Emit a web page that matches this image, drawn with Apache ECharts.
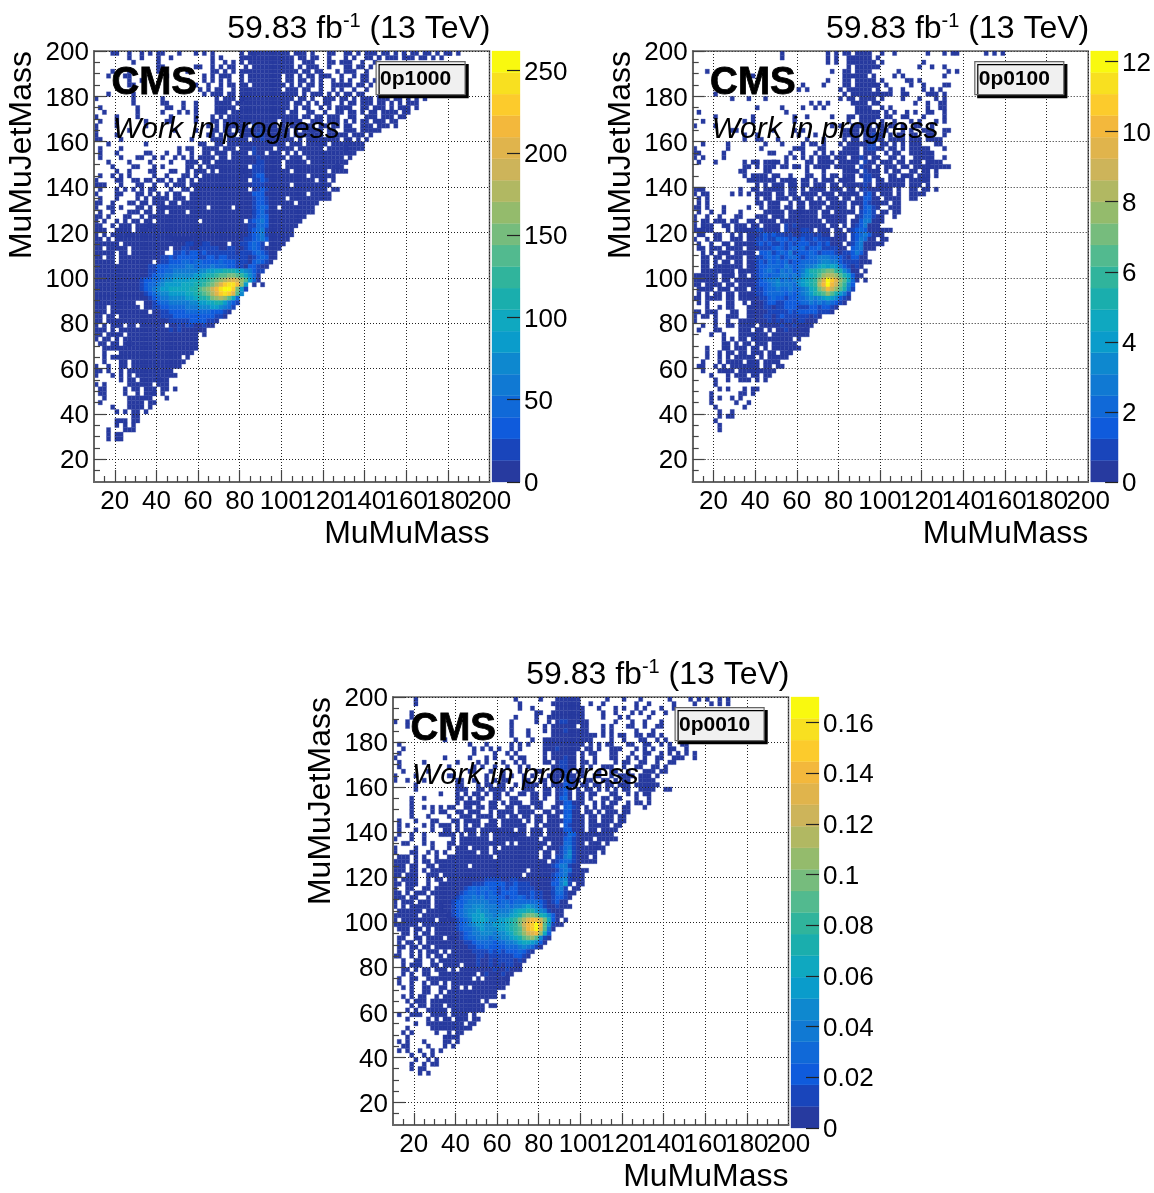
<!DOCTYPE html>
<html><head><meta charset="utf-8">
<style>html,body{margin:0;padding:0;background:#fff}#c{width:1154px;height:1193px}</style>
<script src="https://cdn.jsdelivr.net/npm/echarts@6/dist/echarts.min.js"></script>
</head><body><div id="c"></div>
<script>
// Palette bands of the z axis (bottom to top)
const bandColors=['#273a9f','#1945bb','#0f5bdc','#1069d8','#1079d3','#0e88cf','#0a9ccb','#0fa8c0','#1aaead','#30b49c','#52ba8f','#76bc7d','#94bb6c','#b1b862','#cdb45a','#e0b44c','#f3b83c','#fccb2c','#f8e020','#f9f90f'];
const majorTicks=[20,40,60,80,100,120,140,160,180,200];
const minorTicks=[15,25,30,35,45,50,55,65,70,75,85,90,95,105,110,115,125,130,135,145,150,155,165,170,175,185,190,195];
const labels=['0p1000','0p0100','0p0010'];
const zMax=[262,12.3,0.17];
const zTicks=[[0,50,100,150,200,250],[0,2,4,6,8,10,12],[0,0.02,0.04,0.06,0.08,0.1,0.12,0.14,0.16]];
// Rows run from the top of the plot (MuMuJetMass 198-200) downward, 2 GeV per bin.
// "col:bands" - col is the MuMuMass bin (10+2*col), each char a colour band, '.' an empty bin.
const rows0p1000=[
"4:00 8:0 11:0 13:0 15:00 20:0 24:0 26:0.0 35:0.00 38:00000000 46:0.00 50:0 52:0 56:00 60:00 63:0.00 67:0.00.0.0 74:0.00.0 80:0.0.00 85:0.0",
"8:0 11:0 15:0 18:0 28:0 30:0 35:000 38:00000000 46:00.00.0 53:0 56:0 60:0.0 65:00.0 68:0.000.00 76:0.00.0 83:0",
"9:0 15:0 28:0 31:0 33:0 35:0.0 38:000000000 47:0..00 52:0 56:00 59:000 64:0 67:0",
"15:00 24:00 28:0 30:0 32:00 36:0 38:000000000 47:0.0.0 52:00 56:0 60:00 63:00 66:0",
"4:0 8:0 15:0 22:0 28:00 31:0 33:0 35:00 37:0000000000 47:00 50:00.0 54:0 58:0 60:000 65:0",
"3:0 7:00 17:0 26:0 28:0.0 31:00 35:0.0 38:0000000 46:00.0.00.00 56:0 59:0 62:0.00",
"8:0 11:0 22:0 26:0.0 30:0 32:0 35:0 37:00000000 46:00.00.0 54:0 57:0.0 61:0 64:00.0",
"8:00 24:0 27:0 30:0.0 33:0 35:00 38:00000000 47:0 49:0.00 54:0 57:00000 63:00.0",
"25:0.0 29:00 33:0 35:000 38:0000000 46:000 50:00 54:0 57:0.0 62:0 65:0",
"3:0 9:0 26:0 28:000 32:00 35:0000000000000 48:0.0.00 54:0.0.0 60:00.0 64:0 68:0.0 72:0.0",
"0:0 9:0 16:0 29:0.00 33:0.0 35:00000000000 46:00.00 52:0 55:000 59:00.0.0 65:00.00 70:0.0 73:0 75:0.0.0",
"9:0 16:00 21:0 24:0 29:0000 34:000000000000 46:0.00 51:0.0 55:00 59:0.00 64:000 68:00.0 73:0.00 77:0",
"1:0 10:0 17:00 21:0 24:0 29:00000 35:000000000000 48:0 50:00 54:0.0.0 59:000 64:00.0 68:00.0.00 75:0.0",
"2:0 10:0 16:0 20:0.0 24:0 29:000.0000 37:000000000 47:00 51:00 55:0 58:00.00 64:0 66:00.0 70:000.0 75:0",
"0:0 5:0 10:0 18:0 24:0 28:0.0.00 34:000000000000 46:000.00 53:00.0 57:00 61:00 65:000.00 71:0.0 74:0",
"1:0 5:0 12:0 17:00 24:0 28:00.00 33:00000000000 45:00000 52:000.00 58:0.0 62:0.00.00 68:00.00",
"0:0 5:0 12:0 27:0.0.00 33:0000 38:1 39:00000 45:0.000 50:000 54:00.00 60:00 64:000 68:000.0",
"0:0 8:0 19:0 24:0 28:00.00 34:000 37:0001000 44:000.0.000 52:000 56:00 60:000.00 66:000",
"0:0 5:0 27:00.0 32:00.000 38:01100 43:0000.000 51:0000.000 59:00.00 64:0.0",
"0:00 6:0 23:0 28:000.00 34:000 38:0010000 45:000.0.00 52:0000000 60:00.0 65:0",
"3:0 12:0 25:00 29:00.000 35:000000000 44:00.000.0000 54:00.0000 61:0000",
"1:0 6:0 20:0 22:00 26:0000 31:000 35:000 38:1 39:0000 44:0000.000 52:000.00000 60:00000",
"1:0 5:0 12:00 17:0 20:0 23:0 26:00.000.00 35:00 38:1 39:00.00 44:0.0.0.000 53:000000000 62:0",
"1:0 6:0 10:00 14:0.0 19:0 21:0.0 25:0000.00 33:000000 39:1 40:000000.000.0000 55:00000 61:0",
"3:0 8:0 13:0 18:0 22:000 26:00.000000 35:00000 39:11 41:0000.00000.000000000 60:0",
"4:0 9:00 14:0 16:0 22:00 25:0.0 28:000000000 38:111 41:0000.0000000000000 58:00",
"5:0 8:0 13:00 18:00 22:0.00 26:0.0.0000000 35:00011 40:1000000.00000000.0000",
"1:0 4:0.0 8:0 14:0 17:0 21:00.0 26:000000000000 38:122 41:0000000000.000000",
"0:0 5:00 9:00 12:00 15:00.0.00.0 25:000000000000 38:1121 42:00000000000.00.0",
"0:000 6:0 10:00 14:0 17:0.000.0 24:00000000000000 38:111 41:000000.000000000",
"1:0 5:0.0 9:0.0 13:00 18:0 21:00 24:0000000000000 38:0121 42:00000000000000.00",
"0:0 5:00 10:00 13:0.0 17:0.00 23:000000000000000 38:222 41:0000000000.00000",
"1:0 5:0 10:0 12:0.00 16:00.000 23:000000000000000 38:1221 42:0000.0000000000",
"0:00 4:0 8:00.00.00 16:0.00 21:00000000000000000 38:1221 42:000000.00000",
"0:0 3:00 6:0 10:00.0.00 16:00000000000.00000.0 34:0000 38:1232 42:00.00000000",
"1:0 4:0 8:000 12:00.00 18:0000.0000000000000000 38:1231 42:00000000000",
"0:00 3:0 7:00 11:0.000 16:000000000000000000000 37:01232 42:000000000",
"0:0 2:0 5:0.0 9:00.00 15:0000000000.0000000000 37:12342 42:00000000",
"0:00 4:0.00 8:0.0000 13:00000000000000000000000 36:011332 42:0000000",
"0:000 5:0000.0000 14:0000000000000000000000 36:012341 42:000000",
"0:0.0.00000 8:00000000000000000000000000000 37:12341 42:000000",
"0:00.0.000000000000000000 19:000000000000000 34:00112342 42:00000",
"0:000000.00000000000000000000 22:1100110000 33:00112321 42:0000",
"0:00.00000.000000000 19:00 21:1100111110011 34:0012321 41:0000",
"0:00000.00.00000000 19:11212212111 30:1111 34:011 37:123210 43:0",
"0:00.00.0000000000 16:112122222112212211 34:1 35:1101232 42:00",
"0:00000.00000000 15:0112223323322223222 34:11102321 42:0",
"0:0000000000000 13:11222333344333343332 33:21102210 41:0",
"0:0000000000000 13:1122334444 23:4455667788876542 39:11",
"0:0000000000000 13:1233445555 23:5667889aabba9753 39:0",
"0:00000000000 11:1223345566 21:6677889abcdefeca63 39:0",
"0:00000000000 11:1233456666 21:777889abdfhiigc6 38:0.0",
"0:0000000000 10:01234566777 21:7788abcegijjhb61",
"0:00000000000 11:0123455666 21:67789abdfhihfa5",
"0:00000000000 11:0012344555 21:5667889bcdca73",
"0:0000000000 12:00123344 20:444556677886421",
"0:000.0000000 12:0011223 19:33344455566 30:5431",
"0:000.000000000 14:0011222 21:233333322210",
"0:00.00.000000000 15:01112222222222 29:110",
"0:00.00000000000000 16:0011111222211 29:0",
"0:0.0.000.00.000000 18:001011001 27:00",
"0:000.0.00 8:0000 12:000000101000000",
"0:00.00 5:00 8:00000000000000000 26:0",
"0:0.00.0 7:000000000000000000",
"1:00.00.00 8:00000000000000000",
"2:000000 8:00000000000000000",
"2:0 6:0 7:00000000000000000",
"2:0.00 6:000000000000000 22:0",
"2:0 6:00 9:0000000000000",
"0:0 3:0 6:00.000000000000",
"0:00 3:0 6:0 8:00000000000",
"0:0 4:0 6:0 8:0.000000000 19:0",
"6:0 8:00.000000 15:0.0",
"0:0 2:0 8:0 9:00000 15:000",
"1:00 7:0 9:00.00 14:0.00.0",
"1:00 7:0 10:0.000 14:0 16:0",
"2:0 8:00 10:00 12:00 17:0",
"1:0 8:00 10:00 13:00",
"4:0 8:000 11:0 13:0",
"5:0 7:0 9:00 12:0",
"9:00",
"5:0 6:00 9:00",
"5:0 7:0 9:0",
"3:0 7:00 9:0",
"3:0 5:00",
"3:0 5:00"];
const rows0p0100=[
"21:0 32:0.0 36:00 39:0000 45:0 48:0 56:0 60:0 62:00 70:0.0.0",
"21:0 32:0 34:0 37:00 39:0000 44:0",
"32:0 34:0 37:000000 43:0 45:0 55:0",
"37:0.0000 43:00 54:0 57:0 60:0",
"3:0 33:0 36:00.000 42:0 49:0 61:0.0",
"14:0 36:000000 43:0 48:0 50:0 60:0",
"32:0 36:00.0000 43:0 45:0 51:00 54:0",
"26:0 31:0 36:00.00000 43:00 46:0 52:0 55:0 60:00",
"25:0 27:0 35:0 37:000000 44:0 47:0 50:0 55:0 57:0.0",
"5:0 36:0.00000000 46:00 50:00 56:000 60:0",
"9:0 13:0 17:0 35:0 37:00 40:0000 45:0 50:0 54:0 58:0 60:0",
"28:0 30:0 32:0 38:0000 43:00 53:0 56:0 59:00",
"15:0 21:0 26:0 29:0 31:0 39:0000 45:0 47:0 56:0 59:00",
"1:0 22:0 39:00000 44:0 46:0.0 51:0.0 56:00 60:0",
"5:0 14:0 24:0 27:0 33:0 37:00 40:00000 46:00 50:00 55:0 60:0",
"2:0 12:0.0 24:0 37:0 40:0000 45:0 48:0 52:0.0 58:0 60:0",
"0:0 5:0 33:0.0 38:00 40:000 44:00.00 50:0 53:00 57:0",
"9:00 19:0 24:0.0 36:0000 41:000 45:00 50:0.0 55:000 60:00",
"12:0 15:0 25:0 29:0 36:0000 41:001 44:00 47:0.00 52:00 56:00 60:0",
"12:0 15:00 20:0 27:0 31:0 36:0 38:00 41:0010 45:0.00 49:00.000 56:0000",
"2:0 8:0 17:0 21:0 26:0.00 31:0 35:0.000 40:0011 45:00 48:0.0 52:000 58:00",
"0:0 8:0 16:0 24:000 30:00 36:0000 41:0110 45:0 47:00.0 52:00000 60:0",
"0:00 7:0 18:00 23:0 26:0 29:0.0.0 35:00000 41:000 46:0 48:00 52:000000",
"0:0 2:0 7:0 22:0 24:0 26:0 28:0.000.0 35:00 38:0010 43:00 47:00 50:0 53:00000 60:0",
"1:0 5:0 12:0.00 15:0.0.0 18:000.0 27:00.00 32:00.00000 41:100 45:000 49:00.000.0 56:0000",
"12:00.0.0 18:00.00.0 24:00.0.0 30:000.00 36:000 40:1 41:00 44:0.00 48:0.00.0000 56:000000",
"11:00 17:00 27:0 31:0 36:00 38:00 41:1 42:000 46:0 48:00 52:00.00.0",
"12:0.0 15:000 19:00 23:0 27:00 31:0.00 36:000 40:011 43:00 47:00 50:000.000 56:0.0",
"13:00 15:00000.000 23:00 26:00.0 31:000.00 36:000 41:11 44:00 47:0000.00000 55:0",
"15:0.0.000.00 23:00.00 29:000 33:00.00 38:000 41:10 44:0000000 52:000.0",
"0:000 11:0 14:00 17:00000 23:00.0.000 30:00 33:000.00 38:0 40:01 42:000000 49:0 52:00.00 58:0",
"0:0 2:00 9:0.0 13:0.0 16:000.00 23:00.0000 31:000.000 38:00 41:12 43:0.00 47:0.0 52:0000",
"1:0 3:0 15:0 17:00.000 24:00 27:00 30:0.000.0 37:0 39:00 41:22 43:00 46:00 48:00 52:00",
"1:0 3:0 15:00.000 23:0.00.0 28:0000.0 34:000 38:000 41:21 43:000 46:0 48:00",
"0:00 3:0 7:0 13:0 16:0 18:000.00 25:00 28:000.000 35:00 38:0 40:0231 44:0 47:000",
"1:0 4:0 7:0 11:0 17:00000.000 25:00000.00.00 36:000 40:1231 45:00 48:00",
"0:0 3:0 6:0 10:00 15:000 19:000 23:0000000.000 34:000 39:01331 44:00 48:0",
"0:0.0 3:0.0 6:00 9:00 13:00.000 19:0.0000000000 32:00000.0 39:02440 44:00",
"0:0.0 2:000 7:00 10:000 14:00 17:0000 22:1010000000 33:00.0 38:0124 42:00 44:0",
"0:00 2:000 8:0.000 12:000 15:1 16:10000 22:1000110 30:000.00 37:01232 42:000 45:00 47:0",
"1:00 5:00 9:0.0 13:000 16:1212110 23:10011101 31:00.000 38:12342 43:000",
"0:0 3:0 5:00 9:000 13:00 15:112113 21:2212121 28:1211 32:1 33:0000 38:1243 42:00 45:00",
"1:0 4:0 7:00.0 11:0000 15:1212112 22:121222 28:11212 33:000 37:01340 42:000 45:0",
"1:00.00 6:0.00 10:00 13:0 14:00 16:111232 22:12323 27:1223 31:1111 35:00 38:2340 42:00",
"2:0 4:0.0 7:00 10:000 13:00 16:223123 22:24122 27:2321 31:2221 35:01 37:1242 41:0",
"2:00 5:00.0 9:000 13:00 15:11232 20:3123 24:3212 28:3344 32:4332 36:1 37:0220 41:0",
"2:00 5:0 7:00 10:00 13:0 14:01 16:2132 20:3231 24:2233 28:3345 32:5442 36:11 38:110 41:00",
"2:00.0 6:000 9:000.00 14:01 16:2233 20:3243 24:2334 28:4567 32:6764 36:210 39:10",
"2:000000 8:00.0 11:00 13:0 14:01 16:2343 20:2434 24:2345 27:6889 31:abb9 35:85 37:3 38:00 41:0",
"0:0000 4:00.000 9:0 11:00.0 15:123 18:2334 22:4343 26:5678 30:acdd 34:ca86 38:2 39:00",
"0:00000 5:0 7:00 10:000 13:0 14:012 17:3445 21:3434 25:56789 30:cfjh 34:fca7 38:3 39:0.0",
"0:00.000 6:0 8:00 11:00 13:0 14:012 17:2345 21:4443 25:56789 30:dgjg 34:eb95 38:2",
"1:0000 6:00 8:0 10:000 14:011 17:2334 21:3343 25:34578 30:bdge 34:ca84 38:1",
"1:0 3:0 5:00 8:00 11:0 12:00 14:01 16:1233 20:3323 24:23456 29:89ac 33:a864 37:1",
"0:00 3:000 6:0 8:00 11:00 13:0 14:00 16:1123 20:2212 24:23345 29:4567 33:652 36:10",
"1:0 3:0 8:00 12:0 14:00 16:0122 20:1122 24:22334 29:3434 33:321 36:0",
"3:0 6:0 8:00 13:00 15:001 18:1011 22:2221 26:1122 30:1221 34:0",
"0:00 3:000 9:00 13:000 16:0011 20:1112 24:1222 28:2211 32:10",
"0:0 2:00 5:0 8:000 13:00 15:00 17:1101 21:2111 25:1110 29:10",
"0:0 5:0 8:0 11:00 13:0 14:00 16:00 18:1010 22:1101 26:100 29:0",
"2:0 5:0 8:00 11:00 13:00.00 18:00 20:0100 24:10 26:000",
"1:0 5:00 11:000.0 15:00 18:0.00100000 27:0",
"4:0 7:0 11:0000 15:000 19:00000000 27:0",
"7:0 9:0 11:00.00 15:000000000 25:0",
"7:00 10:0 12:00.0 16:00 19:00000 24:0",
"3:0 7:00 10:000 14:00 17:0.0000000",
"3:0 6:0 8:00 11:00.0 15:0 16:0.00.000 23:0",
"3:0 6:0 8:0.0 11:0000 16:0 18:00000",
"2:0 6:0 8:00 10:00.00 15:0.0 18:000",
"1:00 5:0 7:0.0 10:000000 17:00.00",
"2:0 6:00 8:00.00000 15:000 18:00",
"4:0 8:0 10:00 12:0 14:00.00",
"5:0 8:0 11:00 13:0 15:0.0",
"5:0",
"6:0 8:0 12:0 14:00",
"4:0 11:00 14:0",
"4:0 6:0 9:0.0",
"4:0 10:0 13:0",
"5:0 12:0",
"6:0 9:0",
"6:0 8:00",
"5:0",
"6:0",
"6:0"];
const rows0p0010=[
"5:0 29:0 35:0 39:00000 44:0 51:0 55:0 59:0 66:0 71:0.0 75:0 78:0.0",
"5:0 30:0 38:0000 42:00 44:0 47:0 50:0 58:0 61:0 67:0 72:0 76:0.0 80:0",
"30:0 33:0 39:000000 45:0 49:0 53:0 55:0 58:0 60:0 64:0 67:0",
"4:0 34:00 38:0000000 45:0 50:0 53:0 57:0.0 62:0 65:0",
"4:0 29:0 34:0 37:00000000 45:0 50:0 54:0 56:0 61:0",
"0:0 3:0 28:0 34:0 37:0 39:011000 45:00 53:0 57:0 60:0 64:0",
"3:0 28:0 36:0 38:000000 45:00 50:0 52:0 56:00 60:0 63:00",
"28:0 32:0 36:0.0 39:0010000 46:0 50:0 52:0 58:0 62:0",
"28:0 32:0 38:00000000 46:00 48:0 50:0.0 54:00 58:00 61:00.0",
"12:0 29:0 33:0 36:00000000000 47:0 52:0 55:0 59:00 63:0 65:0",
"1:0 18:0 22:0 28:0 30:0.0 36:0000000000 47:0.0 51:00 56:00 60:00 64:0.0 69:00",
"2:0 19:0 21:0 23:0.0 28:0 30:0 36:00 38:0100000 46:00 49:0 52:000 58:0.0 62:0 66:00 70:0",
"1:0 19:0 24:0 27:0 29:0 36:0 38:000000 45:0 47:00 52:00 57:0 60:00 64:0.0 68:0.0 72:0",
"0:0 12:0 18:0 22:0.0 28:0 30:00 36:0.0 39:00100 45:0 48:0 52:00 56:0.0 60:0 63:00 67:000 72:0",
"1:0 7:0 15:0 20:0.0 26:0 29:0.0 36:00 39:01100 45:00 48:0 53:0 55:00 59:00 63:0 66:00",
"1:0 13:0 19:0 21:0 24:0 27:0 30:0.0 38:001100 45:0 47:0 50:000 55:0 58:00 62:00 65:0",
"2:0 8:0 18:00 23:0 26:0 30:0 34:00 38:000 41:10 44:00 49:0 52:00 56:0 60:000 64:00",
"0:0 5:0 13:00 22:0 26:0.0 31:0.0 37:0000 41:1 42:00 45:0 48:00 52:0.00 56:00 59:000 63:0",
"0:0 3:0 7:0 15:00 19:0 22:0.0 26:00 31:00 35:00 38:00 41:11 43:00 46:00 50:00.0 55:00 59:0000",
"5:0 15:00 20:0.00 25:00 29:0.000 34:0 36:0 38:000 41:21 43:0 45:00 48:00.00 54:000 58:000000",
"5:0 15:000 20:00.00 25:00.0 31:000 36:00 39:0 40:120 44:0 46:00 49:0.0 53:0 55:00 59:0000 65:00",
"11:0 15:0.0 19:00 22:0 24:00 27:0 30:00 33:00 36:00 39:0 40:120 44:00 47:00 52:00 56:0.0 60:00",
"4:0 7:0 15:00 18:0.00 24:00 28:00 33:00.0 39:0 40:230 44:00 47:0 50:00 53:00 58:0 61:0",
"4:0 15:0 17:0000 23:00.0 28:000 33:000 39:00 41:2200 45:0 48:0 50:0.00 56:0.00 61:0",
"4:0 7:0 9:0 11:0.00 17:00.00 23:00 27:00.000 34:00 38:00 41:231 44:0 46:0.0 50:000 55:00 60:0",
"4:0 9:0 11:00 15:00.000 23:0.00 27:00 30:0000 36:00 39:00 41:22 43:00 46:00 49:0 51:000.00",
"4:0 8:0 13:0 16:000.00 22:00 25:00 28:00.00 34:00 37:000 41:230 44:00 47:00 50:000.00",
"1:0 5:0 9:00 14:00.0 18:000 23:00.00 28:000.0 34:00 37:000 40:0220 44:00 47:00.000.00",
"1:0 3:0 7:0.0 11:000 15:0 17:0.00 22:000.000 29:000 34:0 36:0000 41:21 43:000 47:00000.00",
"1:0 5:0 9:0 12:00 15:0 17:000 21:00000000 30:00.00 35:0 37:000 40:0220 44:00.00.0000",
"1:0 4:0 7:0 11:0000 16:0 18:00.00.000000 28:0000 33:000 37:0000 41:132 44:000000000",
"0:0 4:0 7:0 14:0 16:0000000 24:0 25:0000000000.00 38:000 41:231 44:0000.00000",
"2:00 7:0 9:0 13:00 16:00000000000 28:0.0000000 38:00 40:0331 44:00.000.0",
"0:0 5:0 9:0 13:0 15:000.0000.0 26:0000000000 37:000 40:1341 44:0000000",
"0:0 4:00 8:0.0 12:0 15:00000 21:00 24:00000000000 36:00 39:01351 44:00000.0",
"1:000 5:0 7:0 10:0 13:00000000000.0000000000 36:00 39:11451 44:000.0",
"0:0000 5:0 7:00.00000000000000000000000000 36:0 38:012331 44:00000",
"0:000 4:00 8:00 11:00 13:00000.000000000000000000 36:0012441 43:00",
"0:000 4:00 7:0.00 11:0000000000 21:00000000000 33:00000 38:01343 43:0000",
"0:00 3:00 5:0 8:000 12:00 14:0000000 21:0000000000 32:000000 38:12341 43:00 45:0",
"0:0.00 4:00 8:0 10:00 13:0 14:0000000 21:01111001100 32:000000 38:12451 43:000",
"0:00 3:000 8:0 11:0000 15:0000 19:111222 25:221121 31:11000 36:002 39:2461 44:00",
"0:0 3:00 7:00.0 11:0000 15:00 17:1232 21:3322 25:1212 29:211 32:11000 37:01341 43:00",
"0:00 3:0.0 6:00.00 11:00 13:000 16:1233 20:2323 24:2122 28:2211 32:1211 36:002 38:1331 42:00",
"0:000 4:00 8:0.00 12:0000 15:123 18:3434 22:2332 26:2122 30:3212 34:1100 38:1221 42:0",
"0:0 2:000 6:000.0 11:0000 14:12 16:2344 20:4443 24:3233 28:2333 32:3332 36:10 38:120 41:0",
"0:0 2:0.000 7:00.00 11:000 14:12 16:2445 20:5544 24:4334 28:3445 32:6543 36:10 38:010 41:00",
"1:0000 5:00.0000 11:000 14:123 17:4556 21:5544 25:4445 29:6778 33:8654 37:10 39:00",
"0:000000.0000000 13:01234 18:5667 22:5545 26:5567 30:8abb 34:a875 38:2 39:00",
"0:0.00000000 9:0.0000 14:01234 19:6676 23:5566 27:789b 31:dfgg 35:eb72 39:0 41:0",
"0:00000 5:0 7:00 9:0 10:0 11:000 14:0123 18:4566 22:5566 26:6789 30:beghj 35:ga61 39:00",
"1:000 5:00.0 8:0.000 13:0 14:0123 18:3456 22:5556 26:6789 30:adghj 35:fa4 38:0",
"2:00 5:0.0 8:0 10:0000 14:0012 18:3445 22:5545 26:5679 30:acefg 35:c72",
"1:00 5:00 8:0000.00 14:00 16:123 19:3444 23:3445 27:5678 31:abca 35:51 37:0",
"1:0 3:00 6:0 8:000000 14:00 16:0112 20:3333 24:2334 28:4567 32:765 35:20",
"1:00 4:00.0 8:0.0 11:000 14:00 16:0011 20:2232 24:2223 28:3345 32:431 35:0",
"1:0 4:0 6:0.0 9:00 12:0.00 16:0001 20:1112 24:1212 28:2232 32:10",
"0:00 4:0.0 8:0 10:00.000 16:0000 20:1101 24:1111 28:1221 32:0",
"2:0 5:00 9:0 11:000 14:00 16:00 18:0010 22:0101 26:1110 30:10",
"2:0 4:00 6:0 9:00 12:000 15:0 17:00 19:01 21:0010 25:1011 29:00",
"2:00 5:0 7:00 10:00 12:0 14:0.0000 20:00 22:0010 26:01 28:000",
"2:0 4:0 7:00 11:0000 15:00000 21:010 24:0010 28:0",
"1:0 4:00 8:00 10:000000000 20:0.000000 27:0",
"1:0 4:0 7:0 9:00 12:0.00000000000000",
"2:0 4:0 7:00 11:00 14:00.0.00000000",
"4:0 7:00 11:0 13:000000000000",
"2:0 4:0.0 7:0 10:0 12:000000000000 24:0.0",
"3:0.0 6:00.00 11:0000000000 22:0",
"4:0 6:00 9:000 13:000000000 23:00",
"3:0 5:0 8:00000 14:000000 20:00",
"1:0 4:00 6:0 9:0 10:000 14:0000 19:0",
"3:0 8:0 10:0 12:00.0 15:000.00",
"5:0 8:0 9:00 11:000000 18:00",
"3:0 9:00 11:000000 17:00",
"2:0 4:0 10:0 13:0 15:00",
"3:0 12:00 14:00",
"1:0 3:0 7:0 12:00 15:0",
"2:00 8:0 12:0 14:0",
"1:0 3:0 6:0 9:0 11:0",
"4:0 7:0 9:0",
"5:0 8:0 10:0",
"4:0 7:0 9:00",
"4:0 6:00",
"6:0 8:0"];
const allRows=[rows0p1000,rows0p0100,rows0p0010];
const X0=10,Y_TOP=200,BIN=2;
const frames=[[94,51],[692.7,51],[393,697]];
const PW=395.5,PH=431;
const FONT='"Liberation Sans",Arial,sans-serif';

function cellsOf(rows,zm){
  const out=[];
  rows.forEach((row,r)=>{
    row.split(' ').forEach(seg=>{
      const [c,s]=seg.split(':');
      [...s].forEach((ch,k)=>{
        if(ch==='.')return;
        out.push([X0+BIN*(+c+k),Y_TOP-BIN*(r+1),(parseInt(ch,36)+0.5)*zm/bandColors.length]);
      });
    });
  });
  return out;
}
const grid=[],xAxis=[],yAxis=[],series=[],title=[],graphic=[];
const tickColor='#444',frameColor='#666';
const lowered={t:{fontFamily:FONT,fontSize:26,color:'#000',padding:[4,0,0,0]}};
const lowerLabel=v=>'{t|'+v+'}';
frames.forEach(([L,T],i)=>{
  const zm=zMax[i];
  const gi=grid.length, xi=xAxis.length, yi=yAxis.length;
  grid.push({left:L,top:T,width:PW,height:PH,show:true,backgroundColor:'#fff',borderColor:frameColor,borderWidth:1.5,containLabel:false});
  grid.push({left:L+PW+2.5,top:T,width:28,height:PH,show:false});
  const lab={fontFamily:FONT,fontSize:26,color:'#000',hideOverlap:false};
  xAxis.push({type:'value',gridIndex:gi,min:10,max:200,z:3,position:'bottom',
    name:'MuMuMass',nameLocation:'end',nameGap:0,nameMoveOverlap:false,
    nameTextStyle:{fontFamily:FONT,fontSize:32,color:'#000',align:'right',verticalAlign:'top',padding:[36,0,0,0]},
    axisLine:{show:true,onZero:false,lineStyle:{color:frameColor,width:2}},
    axisTick:{show:true,inside:true,length:12,customValues:majorTicks,lineStyle:{color:tickColor,width:1.2}},
    axisLabel:{...lab,margin:7,customValues:[...majorTicks,200]},
    splitLine:{show:true,lineStyle:{color:'#222',type:[1,2],width:1}}});
  xAxis.push({type:'value',gridIndex:gi,min:10,max:200,z:3,position:'bottom',
    axisLine:{show:false,onZero:false},axisLabel:{show:false},splitLine:{show:false},
    axisTick:{show:true,inside:true,length:6,customValues:minorTicks,lineStyle:{color:tickColor,width:1.2}}});
  yAxis.push({type:'value',gridIndex:gi,min:10,max:200,z:3,position:'left',
    name:'MuMuJetMass',nameLocation:'end',nameGap:0,nameRotate:90,nameMoveOverlap:false,
    nameTextStyle:{fontFamily:FONT,fontSize:32,color:'#000',align:'right',verticalAlign:'bottom',padding:[0,0,56,0]},
    axisLine:{show:true,onZero:false,lineStyle:{color:frameColor,width:2}},
    axisTick:{show:true,inside:true,length:12,customValues:majorTicks,lineStyle:{color:tickColor,width:1.2}},
    axisLabel:{...lab,margin:5,formatter:lowerLabel,rich:lowered,customValues:majorTicks},
    splitLine:{show:true,lineStyle:{color:'#222',type:[1,2],width:1}}});
  yAxis.push({type:'value',gridIndex:gi,min:10,max:200,z:3,position:'left',
    axisLine:{show:false,onZero:false},axisLabel:{show:false},splitLine:{show:false},
    axisTick:{show:true,inside:true,length:6,customValues:minorTicks,lineStyle:{color:tickColor,width:1.2}}});
  series.push({type:'custom',coordinateSystem:'cartesian2d',xAxisIndex:xi,yAxisIndex:yi,z:1,animation:false,progressive:0,
    data:cellsOf(allRows[i],zm),clip:true,
    renderItem:(p,api)=>{
      const x=api.value(0),y=api.value(1),z=api.value(2);
      const a=api.coord([x,y+BIN]),b=api.coord([x+BIN,y]);
      const col=bandColors[Math.min(bandColors.length-1,Math.floor(z/zm*bandColors.length))];
      return {type:'rect',shape:{x:a[0],y:a[1],width:b[0]-a[0],height:b[1]-a[1]},style:{fill:col,stroke:col,lineWidth:0.3}};
    }});
  // colour bar
  xAxis.push({type:'value',gridIndex:gi+1,min:0,max:1,show:false});
  yAxis.push({type:'value',gridIndex:gi+1,min:0,max:zm,position:'right',z:3,
    axisLine:{show:false,onZero:false},splitLine:{show:false},
    axisTick:{show:true,inside:true,length:13,customValues:zTicks[i],lineStyle:{color:'#222',width:1.2}},
    axisLabel:{...lab,margin:4,formatter:lowerLabel,rich:lowered,customValues:zTicks[i]}});
  series.push({type:'custom',coordinateSystem:'cartesian2d',xAxisIndex:xi+2,yAxisIndex:yi+2,z:1,animation:false,
    data:bandColors.map((_,k)=>[0,k*zm/bandColors.length]),
    renderItem:(p,api)=>{
      const k=p.dataIndex;
      const a=api.coord([0,(k+1)*zm/bandColors.length]),b=api.coord([1,k*zm/bandColors.length]);
      return {type:'rect',shape:{x:a[0],y:a[1],width:b[0]-a[0],height:b[1]-a[1]},style:{fill:bandColors[k],stroke:bandColors[k],lineWidth:0.3}};
    }});
  title.push({text:'{a|59.83 fb}{s|-1}{a| (13 TeV)}',left:L+PW-4,top:T-45,textAlign:'right',z:10,
    textStyle:{fontWeight:'normal',rich:{a:{fontFamily:FONT,fontSize:32,fontWeight:'normal',color:'#000',lineHeight:36},s:{fontFamily:FONT,fontSize:20,fontWeight:'normal',color:'#000',verticalAlign:'top',lineHeight:36,padding:[0,0,14,0]}}}});
  graphic.push({type:'text',left:L+17,top:T+12,z:20,style:{text:'CMS',font:'bold 38.5px "Liberation Sans"',fill:'#000',stroke:'#000',lineWidth:0.8}});
  graphic.push({type:'text',left:L+19,top:T+64,z:20,style:{text:'Work in progress',font:'italic 30px "Liberation Sans"',fill:'#000'}});
  graphic.push({type:'rect',left:L+281.5,top:T+10,z:19,shape:{width:89,height:33},style:{fill:'#f0f0f0',stroke:frameColor,lineWidth:1.2,shadowColor:'#000',shadowBlur:0,shadowOffsetX:3,shadowOffsetY:3}});
  graphic.push({type:'text',left:L+286,top:T+18,z:20,style:{text:labels[i],font:'bold 21px "Liberation Sans"',fill:'#000'}});
});
const chart=echarts.init(document.getElementById('c'),null,{renderer:'canvas',width:1154,height:1193});
chart.setOption({animation:false,backgroundColor:'#fff',grid,xAxis,yAxis,series,title,graphic});
</script></body></html>
